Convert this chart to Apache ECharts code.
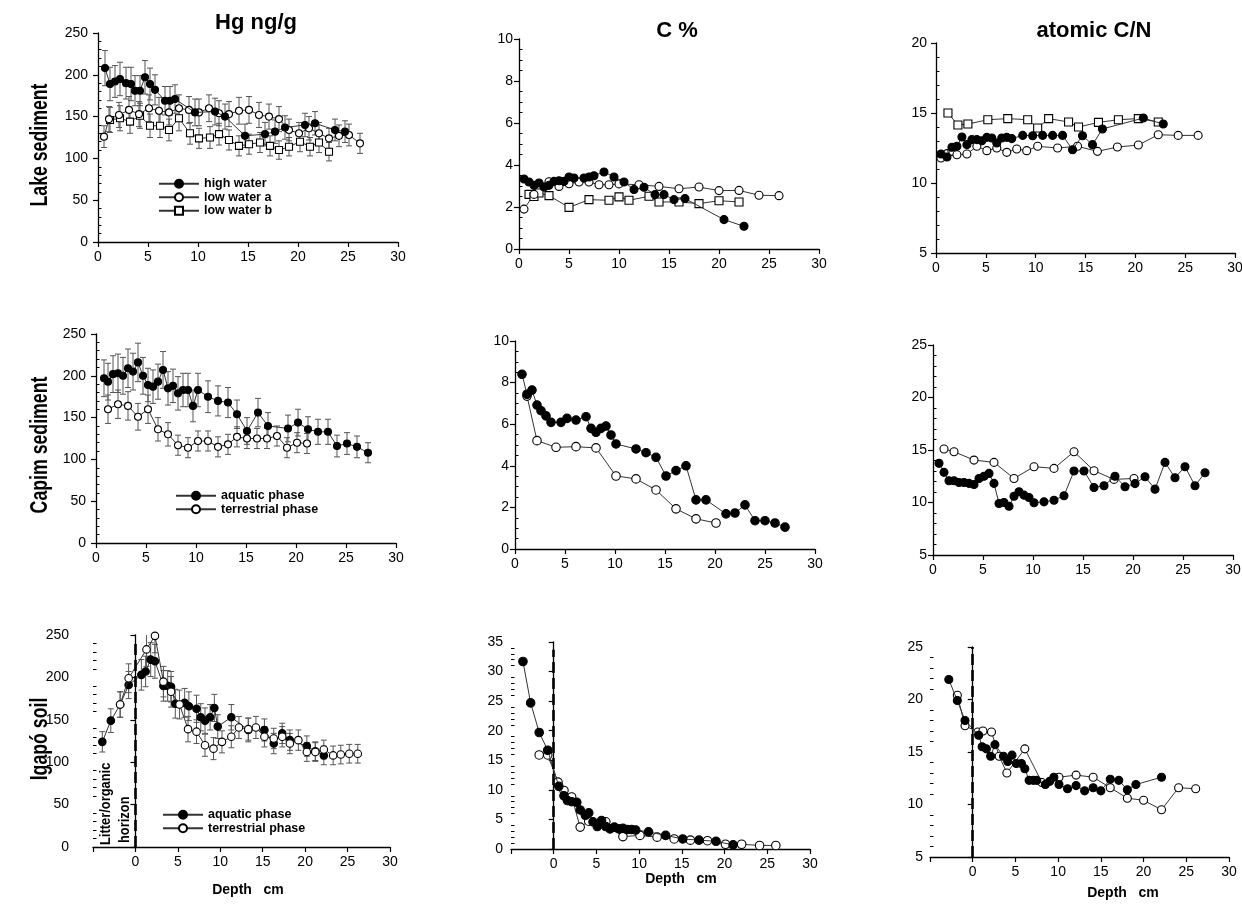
<!DOCTYPE html>
<html>
<head>
<meta charset="utf-8">
<script src="https://cdn.jsdelivr.net/npm/echarts@6/dist/echarts.min.js"></script>
<style>
  html, body { margin: 0; padding: 0; background: #fff; }
  #chart { width: 1242px; height: 904px; }
</style>
</head>
<body>
<div id="chart"></div>
<script>
// ---- Hg (ng/g): [depth cm, mean, sd] ----
const lakeHgHigh = [[0.7,208,21],[1.2,189,20],[1.7,192,19],[2.2,195,20],[2.8,190,19],[3.3,189,20],[3.7,181,18],[4.2,181,18],[4.7,197,20],[5.2,189,19],[5.7,182,18],[6.7,169,17],[7.2,169,17],[7.7,171,17],[9.7,155,16],[11.7,156,16],[12.7,150,15],[14.7,127,14],[16.7,129,14],[17.7,132,14],[18.7,137,14],[20.7,140,14],[21.7,142,14],[23.7,134,13],[24.7,132,13]];
const lakeHgLowA = [[0.6,126,13],[1.1,147,15],[2.1,152,15],[3.1,158,16],[4.1,153,15],[5.1,160,16],[6.1,157,16],[7.1,155,15],[8.1,160,16],[9.1,158,16],[10.1,155,16],[11.1,160,16],[12.1,154,15],[13.1,153,15],[14.1,157,16],[15.1,158,16],[16.1,152,15],[17.1,150,15],[18.1,147,15],[19.1,134,13],[20.1,130,13],[21.1,136,14],[22.1,130,13],[23.1,124,12],[24.1,127,13],[25.1,128,13],[26.2,118,12]];
const lakeHgLowB = [[1.2,146,15],[2.2,148,15],[3.2,144,14],[4.2,151,15],[5.2,139,14],[6.2,139,14],[7.1,134,13],[8.1,148,15],[9.2,130,13],[10.1,124,12],[11.2,125,13],[12.1,129,13],[13.1,122,12],[14.1,115,12],[15.1,117,12],[16.2,119,12],[17.2,115,12],[18.1,110,11],[19.1,114,11],[20.2,120,12],[21.2,114,11],[22.1,119,12],[23.1,108,11]];
const capimHgAquatic = [[0.8,197,22],[1.2,193,22],[1.7,202,22],[2.2,203,23],[2.7,200,22],[3.2,209,23],[3.7,205,22],[4.2,216,23],[4.7,200,22],[5.2,189,20],[5.7,187,20],[6.2,193,21],[6.7,207,22],[7.2,185,20],[7.7,188,20],[8.2,179,20],[8.7,183,20],[9.2,183,20],[9.7,164,19],[10.2,183,20],[11.2,175,19],[12.2,170,18],[13.2,168,18],[14.1,154,17],[15.1,134,16],[16.2,156,17],[17.2,140,16],[19.2,137,16],[20.2,144,16],[21.2,136,15],[22.2,133,15],[23.2,133,15],[24.1,116,13],[25.1,119,13],[26.1,115,13],[27.2,108,12]];
const capimHgTerrestrial = [[1.2,160,17],[2.2,166,17],[3.2,164,17],[4.2,151,16],[5.2,160,17],[6.2,136,14],[7.2,130,14],[8.2,117,12],[9.2,114,12],[10.2,122,12],[11.2,122,12],[12.2,115,12],[13.2,118,12],[14.1,127,12],[15.1,125,12],[16.1,125,12],[17.1,125,12],[18.1,128,12],[19.1,114,12],[20.1,120,12],[21.1,119,12]];
const igapoHgAquatic = [[-3.9,124,12],[-2.9,149,14],[-1.8,168,15],[-0.8,191,16],[0.7,203,18],[1.2,207,18],[1.8,221,20],[2.3,219,20],[3.3,190,18],[3.8,190,18],[4.2,189,18],[4.7,169,17],[5.8,170,17],[6.3,166,17],[7.2,163,16],[7.7,153,16],[8.2,149,15],[8.8,153,15],[9.3,164,16],[9.7,142,14],[11.3,153,15],[13.3,138,14],[15.2,138,13],[16.3,122,12],[17.3,134,12],[18.2,126,12],[20.2,119,12],[21.2,113,11],[22.2,108,11]];
const igapoHgTerrestrial = [[-1.8,168,15],[-0.8,199,17],[1.3,233,20],[2.3,249,20],[3.3,195,18],[4.2,183,18],[5.2,168,17],[6.2,139,15],[7.2,136,14],[8.2,120,13],[9.2,116,13],[10.2,124,13],[11.3,130,13],[12.2,141,13],[13.3,139,13],[14.2,141,13],[15.2,130,12],[16.3,128,12],[17.3,130,12],[18.2,122,12],[19.2,126,12],[20.2,112,11],[21.2,112,11],[22.2,115,11],[23.3,108,11],[24.2,109,11],[25.2,110,11],[26.2,110,11]];

// ---- C %: [depth cm, value] ----
const lakeCHigh = [[0.5,3.33],[1.0,3.19],[1.5,3.03],[2.0,3.14],[2.5,2.95],[3.0,3.03],[3.5,3.22],[4.0,3.25],[4.5,3.22],[5.0,3.43],[5.5,3.38],[6.5,3.38],[7.0,3.43],[7.5,3.49],[8.5,3.67],[9.5,3.43],[10.5,3.19],[11.5,2.83],[12.5,2.94],[13.6,2.59],[14.5,2.59],[15.5,2.35],[16.6,2.4],[20.5,1.4],[22.5,1.08]];
const lakeCLowA = [[0.5,1.9],[1.5,2.6],[3.0,3.2],[4.0,2.98],[5.0,3.11],[6.0,3.19],[7.0,3.19],[8.0,3.06],[9.0,3.06],[10.0,3.1],[12.0,3.06],[14.0,2.98],[16.0,2.87],[18.0,2.95],[20.0,2.78],[22.0,2.79],[24.0,2.56],[26.0,2.54]];
const lakeCLowB = [[1.0,2.6],[1.5,2.5],[2.0,2.67],[3.0,2.54],[5.0,1.98],[7.0,2.35],[9.0,2.32],[10.0,2.48],[11.0,2.32],[13.0,2.51],[14.0,2.24],[16.0,2.24],[18.0,2.16],[20.0,2.3],[22.0,2.24]];
const capimCAquatic = [[0.7,8.4],[1.2,7.44],[1.7,7.64],[2.2,6.92],[2.6,6.65],[3.1,6.4],[3.6,6.09],[4.6,6.09],[5.2,6.28],[6.1,6.2],[7.1,6.36],[7.6,5.8],[8.1,5.61],[8.6,5.8],[9.1,5.91],[9.6,5.48],[10.1,5.05],[12.1,4.81],[13.1,4.63],[14.1,4.41],[15.1,3.51],[16.1,3.77],[17.1,4.0],[18.1,2.36],[19.1,2.36],[21.1,1.69],[22.0,1.73],[23.0,2.12],[24.0,1.36],[25.0,1.36],[26.0,1.25],[27.0,1.05]];
const capimCTerrestrial = [[1.2,7.35],[2.2,5.21],[4.1,4.89],[6.1,4.92],[8.1,4.86],[10.1,3.51],[12.1,3.37],[14.1,2.84],[16.1,1.93],[18.1,1.45],[20.1,1.25]];
const igapoCAquatic = [[-3.6,31.7],[-2.7,24.7],[-1.7,19.7],[-0.7,16.7],[0.6,10.6],[1.2,9.0],[1.6,8.2],[2.1,8.0],[2.7,7.9],[3.1,6.6],[3.7,5.7],[4.1,6.1],[4.6,4.6],[5.1,3.8],[5.6,4.8],[6.1,3.8],[6.6,3.4],[7.1,3.7],[7.6,3.4],[8.1,3.5],[8.6,3.3],[9.1,3.3],[9.6,3.2],[11.1,2.9],[13.1,2.3],[15.1,1.7],[17.0,1.5],[19.0,1.3],[21.0,0.7]];
const igapoCTerrestrial = [[-1.7,15.9],[-0.7,15.9],[0.5,11.3],[1.2,9.9],[2.1,8.8],[3.1,3.7],[4.1,4.7],[6.1,4.6],[8.1,2.1],[10.1,2.3],[12.1,2.0],[14.1,1.7],[16.0,1.5],[18.0,1.4],[20.1,0.8],[22.0,0.8],[24.1,0.6],[26.0,0.6]];

// ---- atomic C/N: [depth cm, value] ----
const lakeCNHigh = [[0.5,12.07],[1.1,11.86],[1.6,12.55],[2.1,12.62],[2.6,13.29],[3.1,12.74],[3.6,13.1],[4.1,13.1],[4.6,13.02],[5.1,13.26],[5.6,13.21],[6.1,12.86],[6.6,13.21],[7.1,13.26],[7.6,13.17],[8.7,13.4],[9.7,13.38],[10.7,13.4],[11.7,13.4],[12.7,13.4],[13.7,12.38],[14.7,13.38],[15.7,12.74],[16.7,13.86],[20.8,14.64],[22.8,14.21]];
const lakeCNLowA = [[0.5,11.79],[1.1,12.1],[1.6,12.26],[2.1,12.02],[3.1,12.07],[4.1,12.62],[5.1,12.31],[6.1,12.5],[7.1,12.19],[8.1,12.43],[9.1,12.31],[10.2,12.62],[12.2,12.5],[14.2,12.62],[16.2,12.26],[18.2,12.57],[20.3,12.71],[22.3,13.45],[24.3,13.4],[26.3,13.4]];
const lakeCNLowB = [[1.2,15.0],[2.2,14.14],[3.2,14.21],[5.2,14.52],[7.2,14.6],[9.2,14.52],[10.2,13.93],[11.3,14.6],[13.3,14.36],[14.3,14.0],[16.3,14.33],[18.3,14.52],[20.3,14.6],[22.3,14.36]];
const capimCNAquatic = [[0.6,13.73],[1.1,12.87],[1.6,12.07],[2.1,12.07],[2.6,11.91],[3.1,11.91],[3.6,11.82],[4.1,11.72],[4.6,12.29],[5.1,12.5],[5.6,12.77],[6.1,11.82],[6.6,9.9],[7.1,10.0],[7.6,9.65],[8.1,10.6],[8.6,11.02],[9.1,10.7],[9.6,10.48],[10.1,9.97],[11.1,10.06],[12.1,10.22],[13.1,10.64],[14.1,13.0],[15.1,13.0],[16.1,11.43],[17.1,11.6],[18.2,12.5],[19.2,11.5],[20.2,11.8],[21.2,12.45],[22.2,11.27],[23.2,13.82],[24.2,12.36],[25.2,13.41],[26.2,11.6],[27.2,12.83]];
const capimCNTerrestrial = [[1.1,15.1],[2.1,14.84],[4.1,14.04],[6.1,13.82],[8.1,12.29],[10.1,13.41],[12.1,13.25],[14.1,14.84],[16.1,13.03],[18.1,12.2],[20.1,12.29]];
const igapoCNAquatic = [[-2.8,21.9],[-1.8,19.9],[-0.9,18.0],[0.7,16.6],[1.1,15.5],[1.6,15.3],[2.1,14.6],[2.6,15.7],[3.6,14.6],[4.1,14.1],[4.6,14.7],[5.1,13.9],[5.7,13.9],[6.1,13.4],[6.6,12.3],[7.1,12.3],[7.5,12.3],[8.5,11.9],[9.0,12.2],[9.5,12.6],[10.1,11.9],[11.1,11.5],[12.1,11.8],[13.1,11.3],[14.1,11.6],[15.0,11.3],[16.1,12.4],[17.1,12.3],[18.1,11.4],[19.1,11.9],[22.1,12.6]];
const igapoCNTerrestrial = [[-1.8,20.4],[-0.9,17.5],[0.6,16.9],[1.2,17.0],[2.2,16.9],[3.1,14.6],[4.0,13.0],[6.1,15.3],[8.1,12.1],[10.1,12.6],[12.1,12.8],[14.1,12.6],[16.1,11.6],[18.1,10.6],[20.0,10.4],[22.1,9.5],[24.1,11.6],[26.1,11.5]];

// ---- labels ----
const columnTitles = ['Hg ng/g', 'C %', 'atomic C/N'];
const rowTitles = ['Lake sediment', 'Capim sediment', 'Igapó soil'];
const lakeNames = ['high water', 'low water a', 'low water b'];
const phaseNames = ['aquatic phase', 'terrestrial phase'];
const depthLabel = 'Depth   cm';
const horizonLabel = ['Litter/organic', 'horizon'];

const FONT = "'Liberation Sans', Arial, Helvetica, sans-serif";

// panel frames: grid rectangle [left, top, width, height], axis ranges, minor-tick split, label gap
const panels = [
  { rect: [98, 33, 300, 209],  x: [0, 30],  y: [0, 250, 50], minor: 5, gap: 10, sym: 7 },
  { rect: [519, 39, 300, 210], x: [0, 30],  y: [0, 10, 2],   minor: 4, gap: 6,  sym: 8 },
  { rect: [936, 43, 299, 210], x: [0, 30],  y: [5, 20, 5],   minor: 5, gap: 9,  sym: 8 },
  { rect: [96, 334, 300, 209], x: [0, 30],  y: [0, 250, 50], minor: 5, gap: 10, sym: 7 },
  { rect: [515, 341, 300, 208], x: [0, 30], y: [0, 10, 2],   minor: 4, gap: 6,  sym: 8.5 },
  { rect: [933, 345, 300, 210], x: [0, 30], y: [5, 25, 5],   minor: 5, gap: 6,  sym: 8 },
  { rect: [93, 635, 297, 212], x: [-5, 30], y: [0, 250, 50], minor: 5, gap: 24, sym: 7.5 },
  { rect: [511, 642, 299, 207], x: [-5, 30], y: [0, 35, 5],  minor: 5, gap: 8,  sym: 8.5 },
  { rect: [930, 647, 299, 210], x: [-5, 30], y: [5, 25, 5],  minor: 5, gap: 7,  sym: 8 }
];

const grid = [], xAxis = [], yAxis = [], series = [];
panels.forEach((p, i) => {
  grid.push({ left: p.rect[0], top: p.rect[1], width: p.rect[2], height: p.rect[3], outerBoundsMode: 'none' });
  xAxis.push({
    gridIndex: i, type: 'value', min: p.x[0], max: p.x[1], interval: 5,
    axisLine: { lineStyle: { color: '#000', width: 1.3 } },
    axisTick: { length: 5, lineStyle: { color: '#000', width: 1.2 } },
    axisLabel: { margin: 8, fontSize: 14, color: '#000', fontFamily: FONT, formatter: v => (v < 0 ? '' : String(v)) },
    splitLine: { show: false }
  });
  // labelled axis with outward major ticks
  yAxis.push({
    gridIndex: i, type: 'value', position: 'left', offset: 0,
    min: p.y[0], max: p.y[1], interval: p.y[2],
    axisLine: { show: true, lineStyle: { color: '#000', width: 1.3 } },
    axisTick: { length: 5, lineStyle: { color: '#000', width: 1.2 } },
    axisLabel: { margin: p.gap, fontSize: 14, color: '#000', fontFamily: FONT },
    splitLine: { show: false }
  });
  // companion axis on the same line carrying the inward minor ticks
  yAxis.push({
    gridIndex: i, type: 'value', position: 'left', offset: 0,
    min: p.y[0], max: p.y[1], interval: p.y[2],
    axisLine: { show: false },
    axisTick: { show: false, inside: true },
    minorTick: { show: true, splitNumber: p.minor, length: 3.5, lineStyle: { color: '#000', width: 1 } },
    axisLabel: { show: false },
    splitLine: { show: false }
  });
});

const STYLES = {
  filled: { symbol: 'circle', fill: '#000' },
  open:   { symbol: 'circle', fill: '#fff' },
  square: { symbol: 'rect',   fill: '#fff' }
};

function profile(name, data, panel, kind, extra) {
  const st = STYLES[kind];
  const s = {
    type: 'line', name, data, xAxisIndex: panel, yAxisIndex: panel * 2,
    encode: { x: 0, y: 1 },
    symbol: st.symbol, symbolSize: panels[panel].sym,
    showSymbol: true, clip: false,
    lineStyle: { color: '#333', width: 1 },
    itemStyle: { color: st.fill, borderColor: '#000', borderWidth: 1.1 },
    emphasis: { disabled: true },
    z: kind === 'filled' ? 4 : 3,
    animation: false
  };
  return Object.assign(s, extra || {});
}

function errorBars(data, panel) {
  return {
    type: 'custom', xAxisIndex: panel, yAxisIndex: panel * 2,
    data, clip: true, silent: true, z: 1, animation: false,
    encode: { x: 0, y: 1 },
    renderItem(params, api) {
      const x = api.value(0), y = api.value(1), e = api.value(2);
      const lo = api.coord([x, y - e]);
      const hi = api.coord([x, y + e]);
      const w = 3;
      const style = { stroke: '#555', lineWidth: 1 };
      return {
        type: 'group',
        children: [
          { type: 'line', shape: { x1: lo[0], y1: lo[1], x2: hi[0], y2: hi[1] }, style },
          { type: 'line', shape: { x1: lo[0] - w, y1: lo[1], x2: lo[0] + w, y2: lo[1] }, style },
          { type: 'line', shape: { x1: hi[0] - w, y1: hi[1], x2: hi[0] + w, y2: hi[1] }, style }
        ]
      };
    }
  };
}

function surfaceLine(top, bottom) {
  return {
    silent: true, symbol: 'none', animation: false,
    label: { show: false },
    lineStyle: { color: '#000', width: 2.6, type: [11, 5] },
    data: [[{ coord: [0, bottom] }, { coord: [0, top] }]]
  };
}

// Lake sediment
series.push(errorBars(lakeHgLowB, 0), errorBars(lakeHgLowA, 0), errorBars(lakeHgHigh, 0));
series.push(profile(lakeNames[2], lakeHgLowB, 0, 'square'), profile(lakeNames[1], lakeHgLowA, 0, 'open'), profile(lakeNames[0], lakeHgHigh, 0, 'filled'));
series.push(profile(lakeNames[2], lakeCLowB, 1, 'square'), profile(lakeNames[1], lakeCLowA, 1, 'open'), profile(lakeNames[0], lakeCHigh, 1, 'filled'));
series.push(profile(lakeNames[2], lakeCNLowB, 2, 'square'), profile(lakeNames[1], lakeCNLowA, 2, 'open'), profile(lakeNames[0], lakeCNHigh, 2, 'filled'));
// Capim sediment
series.push(errorBars(capimHgTerrestrial, 3), errorBars(capimHgAquatic, 3));
series.push(profile(phaseNames[0], capimHgAquatic, 3, 'filled'), profile(phaseNames[1], capimHgTerrestrial, 3, 'open'));
series.push(profile(phaseNames[0], capimCAquatic, 4, 'filled'), profile(phaseNames[1], capimCTerrestrial, 4, 'open'));
series.push(profile(phaseNames[0], capimCNAquatic, 5, 'filled'), profile(phaseNames[1], capimCNTerrestrial, 5, 'open'));
// Igapó soil
series.push(errorBars(igapoHgTerrestrial, 6), errorBars(igapoHgAquatic, 6));
series.push(profile(phaseNames[0], igapoHgAquatic, 6, 'filled', { z: 3, markLine: surfaceLine(245, 0) }), profile(phaseNames[1], igapoHgTerrestrial, 6, 'open', { z: 4 }));
series.push(profile(phaseNames[0], igapoCAquatic, 7, 'filled', { markLine: surfaceLine(33.7, 0) }), profile(phaseNames[1], igapoCTerrestrial, 7, 'open'));
series.push(profile(phaseNames[0], igapoCNAquatic, 8, 'filled', { markLine: surfaceLine(25, 5) }), profile(phaseNames[1], igapoCNTerrestrial, 8, 'open'));

function legendAt(names, left, top) {
  return {
    data: names, left, top, orient: 'vertical', padding: 0, itemGap: 0,
    itemWidth: 40, itemHeight: 10, selectedMode: false,
    textStyle: { fontFamily: FONT, fontSize: 12.5, fontWeight: 'bold', color: '#000', lineHeight: 13.5, padding: [0, 0, 0, 0] }
  };
}

const graphic = [];
const titleX = [256, 677, 1094];
const titleY = [23, 31, 31];
columnTitles.forEach((t, i) => graphic.push({
  type: 'text', x: titleX[i], y: titleY[i],
  style: { text: t, font: 'bold 22px ' + FONT, fill: '#000', align: 'center', verticalAlign: 'middle' }
}));
// condensed row headings, read bottom to top
const rowY = [145, 445, 739];
rowTitles.forEach((t, i) => graphic.push({
  type: 'text', x: 41, y: rowY[i], rotation: Math.PI / 2, scaleX: 0.77,
  style: { text: t, font: 'bold 23px ' + FONT, fill: '#000', align: 'center', verticalAlign: 'middle' }
}));
const depthX = [248, 681, 1123];
const depthY = [890, 879, 893];
depthX.forEach((x, i) => graphic.push({
  type: 'text', x, y: depthY[i],
  style: { text: depthLabel, font: 'bold 14px ' + FONT, fill: '#000', align: 'center', verticalAlign: 'middle' }
}));
graphic.push({
  type: 'text', x: 106, y: 845, rotation: Math.PI / 2, scaleX: 0.92,
  style: { text: horizonLabel[0], font: 'bold 14px ' + FONT, fill: '#000', align: 'left', verticalAlign: 'middle' }
});
graphic.push({
  type: 'text', x: 125, y: 843, rotation: Math.PI / 2, scaleX: 0.92,
  style: { text: horizonLabel[1], font: 'bold 14px ' + FONT, fill: '#000', align: 'left', verticalAlign: 'middle' }
});

const chart = echarts.init(document.getElementById('chart'), null, { renderer: 'canvas' });
chart.setOption({
  backgroundColor: '#fff',
  animation: false,
  grid, xAxis, yAxis, series, graphic,
  legend: [
    legendAt(lakeNames, 158, 177),
    legendAt(phaseNames, 175, 489),
    legendAt(phaseNames, 162, 808)
  ]
});
</script>
</body>
</html>
